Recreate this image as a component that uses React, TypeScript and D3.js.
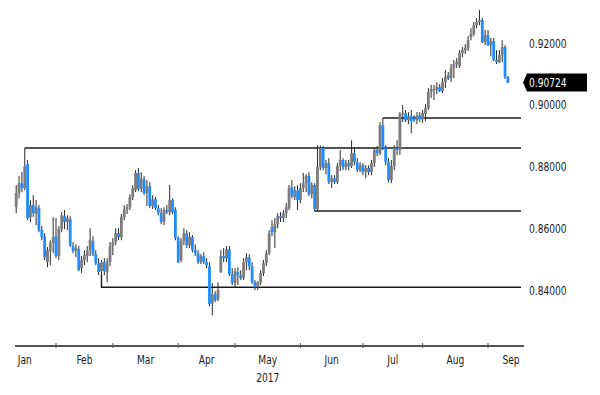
import React from "react";
import * as d3 from "d3";

// ---- data (EUR/GBP daily candles) ----
const START_DATE = "2017-01-12";

const OPENS = [
  // Jan
  0.8668, 0.8714, 0.8746, 0.873, 0.8808, 0.8636, 0.8675, 0.8646, 0.8665, 0.8594, 0.8574, 0.849, 0.8526, 0.8552,
  // Feb
  0.8574, 0.851, 0.8597, 0.8639, 0.862, 0.8629, 0.8542, 0.8526, 0.8532, 0.8471, 0.8497, 0.851, 0.8529, 0.8558, 0.8516, 0.8487, 0.8461, 0.849, 0.8458, 0.849,
  // Mar
  0.8542, 0.8555, 0.8584, 0.8571, 0.8636, 0.8662, 0.8668, 0.8701, 0.8723, 0.8779, 0.8727, 0.8759, 0.8714, 0.8736, 0.8672, 0.8694, 0.8665, 0.8649, 0.862, 0.8659, 0.8652, 0.8691, 0.8659,
  // Apr
  0.8568, 0.8497, 0.8558, 0.8584, 0.8545, 0.8571, 0.8529, 0.8519, 0.849, 0.851, 0.849, 0.8477, 0.8357, 0.8386, 0.837, 0.8458, 0.851, 0.8503, 0.8532, 0.8451,
  // May
  0.8422, 0.8458, 0.8448, 0.8438, 0.849, 0.8506, 0.8477, 0.8425, 0.8409, 0.8425, 0.8455, 0.8487, 0.8519, 0.8604, 0.8587, 0.8613, 0.8639, 0.8633, 0.8649, 0.8665, 0.8733, 0.8701, 0.8723,
  // Jun
  0.8691, 0.873, 0.8746, 0.8769, 0.871, 0.874, 0.8662, 0.8798, 0.886, 0.8795, 0.8811, 0.8749, 0.8762, 0.8749, 0.8801, 0.8821, 0.8798, 0.8811, 0.8801, 0.8843, 0.8814, 0.8788,
  // Jul
  0.8804, 0.8782, 0.8795, 0.8782, 0.8811, 0.8853, 0.8843, 0.8934, 0.886, 0.8814, 0.8756, 0.8801, 0.886, 0.8853, 0.897, 0.8973, 0.895, 0.8963, 0.8957, 0.895, 0.8966,
  // Aug
  0.8953, 0.897, 0.8989, 0.9041, 0.9051, 0.9048, 0.9057, 0.9044, 0.9073, 0.9096, 0.9086, 0.9119, 0.9132, 0.9125, 0.9167, 0.9177, 0.9184, 0.9219, 0.9229, 0.9258, 0.9268, 0.9274, 0.9203,
  // Sep
  0.9226, 0.9193, 0.9206, 0.9145, 0.9138, 0.9161, 0.9187, 0.909,
];

const HIGHS = [
  0.874, 0.8769, 0.8782, 0.886, 0.8821, 0.8691, 0.8707, 0.8691, 0.8675, 0.8607, 0.8584, 0.8539, 0.8561, 0.8636,
  0.8633, 0.8607, 0.8652, 0.8659, 0.8642, 0.8639, 0.8555, 0.8548, 0.8542, 0.851, 0.8529, 0.8542, 0.86, 0.8574, 0.8529, 0.8503, 0.8497, 0.8503, 0.8503, 0.8555,
  0.8568, 0.86, 0.86, 0.8646, 0.8675, 0.8678, 0.871, 0.874, 0.8788, 0.8795, 0.8782, 0.8769, 0.8756, 0.8749, 0.8707, 0.8701, 0.8675, 0.8665, 0.8668, 0.8675, 0.874, 0.8697, 0.8668,
  0.8574, 0.8568, 0.86, 0.8594, 0.8587, 0.8578, 0.8548, 0.8529, 0.8516, 0.8522, 0.8503, 0.849, 0.8422, 0.8396, 0.8425, 0.8529, 0.8536, 0.8542, 0.8542, 0.8471,
  0.8471, 0.8474, 0.8464, 0.8503, 0.8519, 0.8516, 0.849, 0.8432, 0.8429, 0.8464, 0.8497, 0.8529, 0.8594, 0.8626, 0.8633, 0.8649, 0.8652, 0.8659, 0.8681, 0.874, 0.8756, 0.8736, 0.874,
  0.8746, 0.8779, 0.8775, 0.8782, 0.8749, 0.8746, 0.8869, 0.8869, 0.8866, 0.8821, 0.8827, 0.8772, 0.8772, 0.8811, 0.8853, 0.8827, 0.8821, 0.8821, 0.8885, 0.8863, 0.8827, 0.8814,
  0.8811, 0.8804, 0.8804, 0.8821, 0.886, 0.8866, 0.8944, 0.8957, 0.8869, 0.8827, 0.8821, 0.8869, 0.8885, 0.8976, 0.8999, 0.8983, 0.8976, 0.8983, 0.8966, 0.8976, 0.8976,
  0.8983, 0.9002, 0.9054, 0.9064, 0.9064, 0.9073, 0.9067, 0.9086, 0.9112, 0.9106, 0.9132, 0.9145, 0.9151, 0.9177, 0.9187, 0.9196, 0.9222, 0.9248, 0.9268, 0.9281, 0.9307, 0.9281, 0.9242,
  0.9242, 0.9216, 0.9216, 0.9177, 0.9177, 0.9209, 0.9193, 0.9093,
];

const LOWS = [
  0.8649, 0.8697, 0.8717, 0.8723, 0.8626, 0.862, 0.8636, 0.861, 0.8587, 0.8561, 0.8497, 0.8474, 0.848, 0.8519,
  0.8503, 0.8497, 0.8587, 0.8597, 0.8594, 0.8539, 0.8519, 0.8506, 0.8461, 0.8455, 0.848, 0.849, 0.851, 0.851, 0.848, 0.8448, 0.8451, 0.8448, 0.8425, 0.8477,
  0.8513, 0.8545, 0.8561, 0.8561, 0.8626, 0.8646, 0.8659, 0.8691, 0.8717, 0.872, 0.8717, 0.8707, 0.8672, 0.8665, 0.8662, 0.8659, 0.8642, 0.8613, 0.861, 0.8646, 0.8642, 0.8646, 0.8561,
  0.8487, 0.849, 0.8545, 0.8536, 0.8536, 0.8522, 0.851, 0.8484, 0.8484, 0.8484, 0.8471, 0.8348, 0.8318, 0.8361, 0.8364, 0.8455, 0.849, 0.849, 0.8445, 0.8416,
  0.8409, 0.8416, 0.8432, 0.8432, 0.8464, 0.8464, 0.8419, 0.84, 0.84, 0.8416, 0.8445, 0.8477, 0.8513, 0.8574, 0.8536, 0.86, 0.862, 0.862, 0.8633, 0.8659, 0.8697, 0.8691, 0.8659,
  0.8681, 0.8717, 0.8717, 0.8704, 0.8697, 0.8655, 0.8655, 0.8788, 0.8788, 0.8775, 0.8743, 0.873, 0.8743, 0.8743, 0.8785, 0.8788, 0.8788, 0.8788, 0.8795, 0.8804, 0.8782, 0.8782,
  0.8772, 0.8762, 0.8772, 0.8772, 0.8798, 0.8834, 0.8837, 0.8853, 0.8804, 0.8749, 0.8746, 0.8788, 0.8837, 0.8837, 0.8944, 0.8944, 0.8937, 0.8908, 0.8944, 0.8937, 0.8944,
  0.8941, 0.8947, 0.8983, 0.9022, 0.9015, 0.9035, 0.9041, 0.9038, 0.9054, 0.908, 0.9073, 0.9086, 0.9119, 0.9119, 0.9154, 0.9164, 0.9174, 0.9209, 0.9222, 0.9248, 0.9258, 0.92, 0.9193,
  0.919, 0.9158, 0.9141, 0.9132, 0.9135, 0.9138, 0.9083, 0.907,
];

const CLOSES = [
  0.8714, 0.8746, 0.873, 0.8801, 0.8633, 0.8675, 0.8649, 0.8668, 0.8594, 0.8571, 0.8506, 0.8529, 0.8552, 0.8571,
  0.851, 0.8597, 0.8642, 0.862, 0.8633, 0.8545, 0.8526, 0.8536, 0.8464, 0.8497, 0.8513, 0.8529, 0.8561, 0.8516, 0.8487, 0.8458, 0.849, 0.8461, 0.849, 0.8542,
  0.8555, 0.8584, 0.8571, 0.8636, 0.8662, 0.8668, 0.8701, 0.873, 0.8779, 0.8727, 0.8762, 0.8714, 0.8736, 0.8672, 0.8694, 0.8665, 0.8649, 0.862, 0.8659, 0.8652, 0.8691, 0.8652, 0.8568,
  0.849, 0.8558, 0.8584, 0.8545, 0.8571, 0.8529, 0.8519, 0.849, 0.851, 0.849, 0.848, 0.8354, 0.8386, 0.8367, 0.84, 0.851, 0.8503, 0.8532, 0.8451, 0.8422,
  0.8461, 0.8448, 0.8438, 0.849, 0.8506, 0.8477, 0.8425, 0.8409, 0.8425, 0.8455, 0.8487, 0.8519, 0.8584, 0.8587, 0.8613, 0.8639, 0.8633, 0.8649, 0.8668, 0.873, 0.8704, 0.8723, 0.8691,
  0.873, 0.8746, 0.8769, 0.871, 0.874, 0.8662, 0.8798, 0.886, 0.8795, 0.8811, 0.8749, 0.8762, 0.8749, 0.8801, 0.8821, 0.8798, 0.8811, 0.8801, 0.8843, 0.8814, 0.8788, 0.8804,
  0.8782, 0.8795, 0.8782, 0.8811, 0.8853, 0.8843, 0.8934, 0.886, 0.8814, 0.8756, 0.8801, 0.886, 0.8853, 0.897, 0.8973, 0.895, 0.8963, 0.8947, 0.895, 0.8966, 0.8953,
  0.8973, 0.8989, 0.9041, 0.9051, 0.9048, 0.9057, 0.9044, 0.9073, 0.909, 0.9086, 0.9119, 0.9132, 0.9138, 0.9167, 0.9177, 0.9184, 0.9209, 0.9229, 0.9258, 0.9268, 0.9274, 0.9203, 0.9226,
  0.9193, 0.9206, 0.9145, 0.9138, 0.9161, 0.9187, 0.909, 0.90724,
];

const Y_TICKS = [0.84, 0.86, 0.88, 0.9, 0.92];
const MONTH_LABELS = ["Jan", "Feb", "Mar", "Apr", "May", "Jun", "Jul", "Aug", "Sep"];
const YEAR_LABEL = "2017";
const LAST_PRICE_LABEL = "0.90724";

// analyst level lines: level and the day where each starts
const LEVELS = [0.886, 0.8409, 0.8656, 0.8957];
const LEVEL_DATES = ["2017-01-17", "2017-02-23", "2017-06-08", "2017-07-12"];

const FONT = "'DejaVu Sans Condensed', 'DejaVu Sans', sans-serif";
const SQUEEZE = 0.78;

function Label(props: { x: number; y: number; text: string; anchor?: string; fill?: string }) {
  return (
    <text
      transform={`translate(${props.x},${props.y}) scale(${SQUEEZE},1)`}
      textAnchor={props.anchor || "start"}
      fontSize={13}
      fill={props.fill || "#1a1a1a"}
    >
      {props.text}
    </text>
  );
}

export default function App() {
  const W = 600;
  const H = 395;
  const key = d3.timeFormat("%Y-%m-%d");
  const allDays = d3.timeDay
    .range(new Date(2017, 0, 2), new Date(2017, 9, 3))
    .filter((d) => d.getDay() !== 0 && d.getDay() !== 6);
  const idxOf = new Map(allDays.map((d, i) => [key(d), i] as [string, number]));
  const start = idxOf.get(START_DATE) as number;

  const candles = CLOSES.map((c, k) => ({
    i: start + k,
    o: OPENS[k],
    h: HIGHS[k],
    l: LOWS[k],
    c,
  }));

  const feb1 = idxOf.get("2017-02-01") as number;
  const sep1 = idxOf.get("2017-09-01") as number;
  const x = d3.scaleLinear().domain([feb1, sep1]).range([56, 488]);
  const y = d3.scaleLinear().domain([0.84, 0.92]).range([290, 43]);

  const axisY = 346;
  const axisLeft = 15;
  const axisRight = 524;
  const lineEnd = 521;

  const firsts: number[] = [];
  for (let m = 0; m <= 9; m++) {
    firsts.push(allDays.findIndex((d) => d.getMonth() === m));
  }

  const bodyW = 2.8;
  const up = "#7c7c7c";
  const down = "#1e8cff";

  const last = candles[candles.length - 1];
  const lastY = y(last.c);

  return (
    <svg
      width={W}
      height={H}
      style={{ position: "absolute", left: 0, top: 0, background: "#fff" }}
      fontFamily={FONT}
    >
      <rect x={0} y={0} width={W} height={H} fill="#fff" />

      {LEVELS.map((lv, k) => {
        const i = idxOf.get(LEVEL_DATES[k]) as number;
        const cd = candles.find((c) => c.i === i)!;
        const anchor = lv >= cd.h ? cd.h : lv <= cd.l ? cd.l : lv;
        const x0 = x(i);
        return (
          <path
            key={k}
            d={`M${x0},${y(anchor)}V${y(lv)}H${lineEnd}`}
            fill="none"
            stroke="#1a1a1a"
            strokeWidth={1.4}
          />
        );
      })}

      {candles.map((d) => {
        const cx = x(d.i);
        const isUp = d.c >= d.o;
        const top = y(Math.max(d.o, d.c));
        const bot = y(Math.min(d.o, d.c));
        const h = Math.max(1.2, bot - top);
        return (
          <g key={d.i}>
            <line x1={cx} x2={cx} y1={y(d.h)} y2={y(d.l)} stroke="#2a2a2a" strokeWidth={1} />
            <rect x={cx - bodyW / 2} y={top} width={bodyW} height={h} fill={isUp ? up : down} />
          </g>
        );
      })}

      <line x1={axisLeft} x2={axisRight} y1={axisY} y2={axisY} stroke="#555" strokeWidth={2} />
      {firsts.slice(1, 9).map((fi, k) => (
        <line key={k} x1={x(fi)} x2={x(fi)} y1={axisY - 3} y2={axisY + 2} stroke="#555" strokeWidth={1} />
      ))}
      {MONTH_LABELS.map((m, k) => {
        const cx = Math.min((x(firsts[k]) + x(firsts[k + 1])) / 2, 511);
        return <Label key={m} x={cx} y={364} text={m} anchor="middle" />;
      })}
      <Label x={(x(firsts[4]) + x(firsts[5])) / 2} y={382} text={YEAR_LABEL} anchor="middle" />

      {Y_TICKS.map((t) => (
        <Label key={t} x={529} y={y(t) + 4.7} text={t.toFixed(5)} />
      ))}

      <path d={`M523,${lastY}L527,${lastY - 9}H587V${lastY + 9}H527Z`} fill="#000" />
      <Label x={529} y={lastY + 4.7} text={LAST_PRICE_LABEL} fill="#fff" />
    </svg>
  );
}
